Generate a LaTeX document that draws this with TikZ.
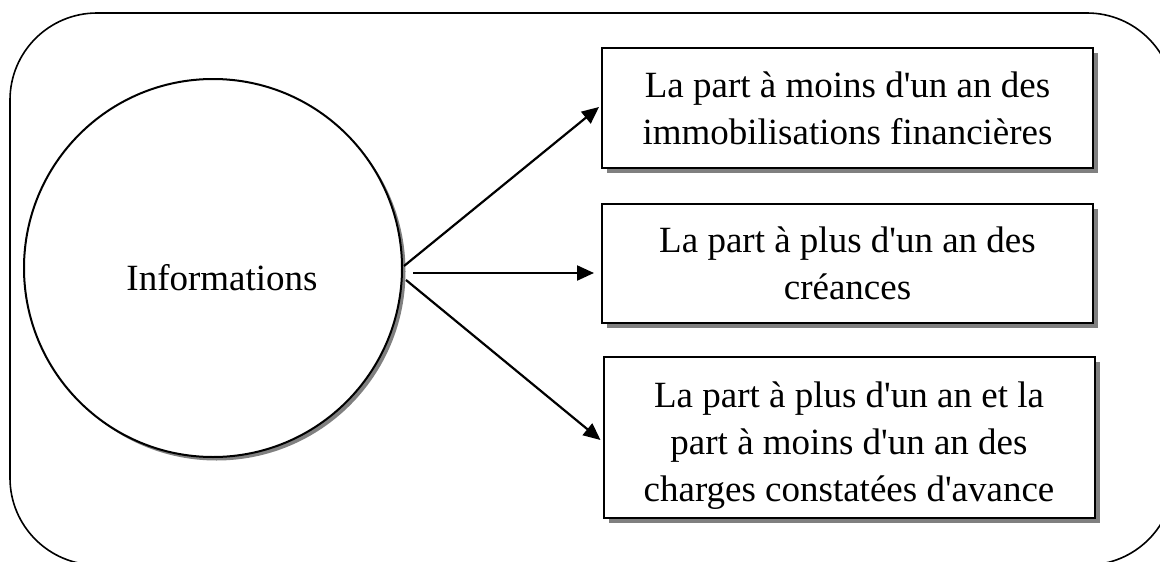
\documentclass[tikz,border=0pt]{standalone}
\usepackage{fontspec}
\setmainfont{Liberation Serif}[Ligatures=TeXOff]
\usetikzlibrary{arrows.meta,shadows,calc}
\begin{document}
\begin{tikzpicture}[x=1pt,y=-1pt,
  font=\fontsize{37pt}{47pt}\selectfont,
  frame/.style={draw=black,line width=1.6pt,rounded corners=87pt},
  bubble/.style={circle,draw=black,line width=2pt,fill=white,minimum size=378pt,inner sep=0pt,
    drop shadow={shadow xshift=3.5pt,shadow yshift=-3.5pt,fill=gray,opacity=1}},
  itembox/.style={rectangle,draw=black,line width=2pt,fill=white,align=center,inner sep=0pt,
    minimum width=491pt,
    drop shadow={shadow xshift=5pt,shadow yshift=-5pt,fill=gray,opacity=1}},
  arr/.style={line width=2.2pt,-{Triangle[length=17pt,width=15pt]}}]
\useasboundingbox (0,0) rectangle (1160,562);
\clip (0,0) rectangle (1160,562);
% rounded outer frame, running past the right and bottom edges
\draw[frame] (10,13) rectangle (1174,565);
% central circle
\node[bubble] (circ) at (213,268) {};
\node[anchor=base,inner sep=0pt] (infolbl) at (222,290) {Informations};
% the three boxes
\node[itembox,minimum height=120pt] (box1) at (847.5,108)
  {La part à moins d'un an des\\immobilisations financières};
\node[itembox,minimum height=119pt] (box2) at (847.5,263.5)
  {La part à plus d'un an des\\créances};
\node[itembox,minimum height=161pt] (box3) at (849,437.5)
  {\rule{0pt}{41pt}La part à plus d'un an et la\\part à moins d'un an des\\charges constatées d'avance};
% connectors
\coordinate (s1) at ([shift={(1,-2)}]circ.east);
\coordinate (s2) at ([shift={(10,5)}]circ.east);
\coordinate (s3) at ([shift={(3,12)}]circ.east);
\draw[arr] (s1) -- ([shift={(-2,-1)}]box1.west);
\draw[arr,shorten >=7pt] (s2) -- (s2 -| box2.west);
\draw[arr] (s3) -- ([shift={(-2,2.5)}]box3.west);
\end{tikzpicture}
\end{document}
